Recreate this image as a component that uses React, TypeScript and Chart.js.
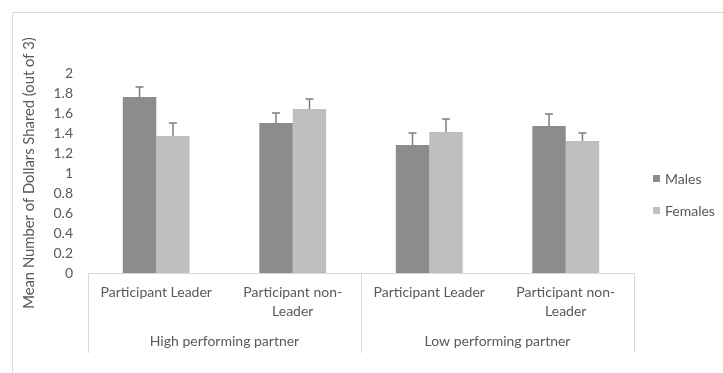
import React, { useEffect, useRef } from "react";
import { Chart, registerables } from "chart.js";

Chart.register(...registerables);

const categories: string[][] = [
  ["Participant Leader"],
  ["Participant non-", "Leader"],
  ["Participant Leader"],
  ["Participant non-", "Leader"],
];
const groups = ["High performing partner", "Low performing partner"];
const seriesNames = ["Males", "Females"];
const males = [1.76, 1.5, 1.28, 1.47];
const females = [1.37, 1.64, 1.41, 1.32];
const malesErr = [0.1, 0.1, 0.12, 0.12];
const femalesErr = [0.13, 0.1, 0.13, 0.08];
const yTicksMin = 0;
const yTicksMax = 2;
const yTicksStep = 0.2;

const FONT = "Lato";
const TEXT = "#595959";
const LINE = "#d9d9d9";
const COLORS = ["#8c8c8c", "#bfbfbf"];

const decorPlugin = {
  id: "decor",
  afterDatasetsDraw(chart: any) {
    const ctx = chart.ctx;
    const y = chart.scales.y;
    const errs = [malesErr, femalesErr];
    ctx.save();
    ctx.strokeStyle = "#7f7f7f";
    ctx.lineWidth = 1.5;
    chart.data.datasets.forEach((ds: any, di: number) => {
      const meta = chart.getDatasetMeta(di);
      meta.data.forEach((bar: any, i: number) => {
        const v = ds.data[i] as number;
        const top = y.getPixelForValue(v + errs[di][i]);
        ctx.beginPath();
        ctx.moveTo(bar.x, bar.y);
        ctx.lineTo(bar.x, top);
        ctx.moveTo(bar.x - 4, top);
        ctx.lineTo(bar.x + 4, top);
        ctx.stroke();
      });
    });
    ctx.restore();
  },
  afterDraw(chart: any) {
    const ctx = chart.ctx;
    const area = chart.chartArea;
    const x = chart.scales.x;
    ctx.save();
    // outer frame
    ctx.strokeStyle = LINE;
    ctx.lineWidth = 1;
    ctx.beginPath();
    ctx.moveTo(12.5, chart.height);
    ctx.lineTo(12.5, 12.5);
    ctx.lineTo(chart.width, 12.5);
    ctx.stroke();
    // axis line
    ctx.beginPath();
    ctx.moveTo(area.left, area.bottom + 0.5);
    ctx.lineTo(area.right, area.bottom + 0.5);
    ctx.stroke();
    // group separators
    const n = categories.length;
    const per = n / groups.length;
    const bounds: number[] = [];
    for (let g = 0; g <= groups.length; g++) {
      const idx = g * per;
      let px: number;
      if (idx === 0) px = area.left;
      else if (idx === n) px = area.right;
      else px = (x.getPixelForValue(idx - 1) + x.getPixelForValue(idx)) / 2;
      bounds.push(px);
      ctx.beginPath();
      ctx.moveTo(Math.round(px) + 0.5, area.bottom);
      ctx.lineTo(Math.round(px) + 0.5, area.bottom + 80);
      ctx.stroke();
    }
    ctx.fillStyle = TEXT;
    ctx.font = `14px ${FONT}`;
    ctx.textAlign = "center";
    ctx.textBaseline = "middle";
    groups.forEach((g, i) => {
      ctx.fillText(g, (bounds[i] + bounds[i + 1]) / 2, area.bottom + 68);
    });
    // legend
    ctx.textAlign = "left";
    seriesNames.forEach((s, i) => {
      const cy = 179 + i * 32;
      ctx.fillStyle = COLORS[i];
      ctx.fillRect(653, cy - 4, 7, 7);
      ctx.fillStyle = TEXT;
      ctx.fillText(s, 665, cy);
    });
    ctx.restore();
  },
};

export default function App() {
  const ref = useRef<HTMLCanvasElement | null>(null);
  useEffect(() => {
    if (!ref.current) return;
    const chart = new Chart(ref.current, {
      type: "bar",
      data: {
        labels: categories,
        datasets: [
          {
            label: seriesNames[0],
            data: males,
            backgroundColor: COLORS[0],
            categoryPercentage: 0.49,
            barPercentage: 1,
          },
          {
            label: seriesNames[1],
            data: females,
            backgroundColor: COLORS[1],
            categoryPercentage: 0.49,
            barPercentage: 1,
          },
        ],
      },
      options: {
        animation: false,
        responsive: true,
        maintainAspectRatio: false,
        layout: { padding: { top: 73, right: 89, left: 0, bottom: 0 } },
        plugins: {
          legend: { display: false },
          tooltip: { enabled: false },
        },
        scales: {
          x: {
            grid: { display: false, drawTicks: false },
            border: { display: false },
            ticks: {
              color: TEXT,
              font: { family: FONT, size: 14, lineHeight: 1.36 },
              padding: 10,
              maxRotation: 0,
              autoSkip: false,
            },
            afterFit(scale: any) {
              scale.height = 100;
            },
          },
          y: {
            min: yTicksMin,
            max: yTicksMax,
            grid: { display: false, drawTicks: false },
            border: { display: false },
            ticks: {
              stepSize: yTicksStep,
              color: TEXT,
              font: { family: FONT, size: 14 },
              padding: 15,
              callback: (v: any) => String(Number(Number(v).toFixed(1))),
            },
            title: {
              display: true,
              text: "Mean Number of Dollars Shared (out of 3)",
              color: TEXT,
              font: { family: FONT, size: 14.8 },
              padding: { top: 20, bottom: 0 },
            },
            afterFit(scale: any) {
              scale.width = 88;
            },
          },
        },
      },
      plugins: [decorPlugin],
    });
    return () => chart.destroy();
  }, []);
  return (
    <div style={{ position: "absolute", left: 0, top: 0, width: 723, height: 373, background: "#fff" }}>
      <canvas ref={ref} />
    </div>
  );
}
